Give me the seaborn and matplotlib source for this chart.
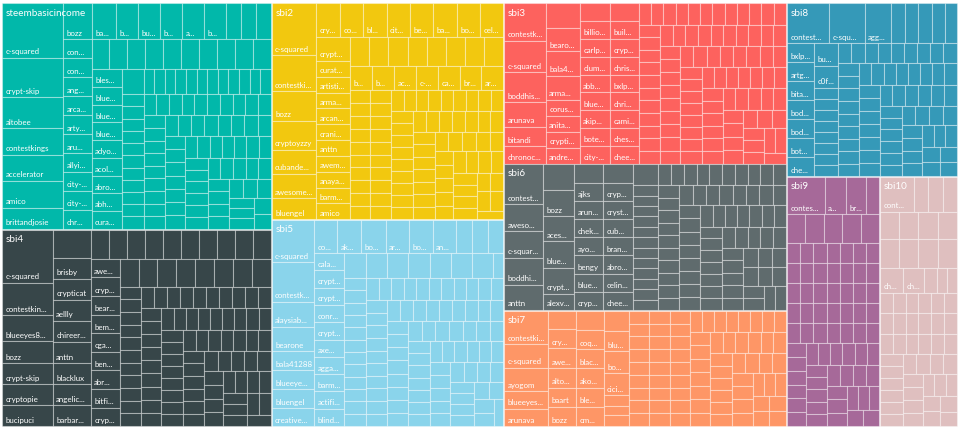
import matplotlib
matplotlib.use("Agg")
import matplotlib.pyplot as plt
import seaborn as sns

sns.set_theme(style="white")
plt.rcParams['font.family'] = ['Lato', 'DejaVu Sans']

group_names = ["steembasicincome", "sbi4", "sbi2", "sbi5", "sbi3", "sbi6", "sbi7", "sbi8", "sbi9", "sbi10"]
group_colors = ["#01B8AA", "#374649", "#F2C80F", "#8AD4EB", "#FD625E", "#5F6B6D", "#FE9666", "#3599B8", "#A66999", "#DFBFBF"]
# how groups are stacked together (indices into group_names)
group_strips = [[0, 1], [2, 3], [4, 5, 6], [7], [8, 9]]
group_dirs = "cccrr"

# Every inner list is one strip of the treemap; numbers are the estimated cell sizes.
# The *_dirs strings say whether a strip is a column (c) or a row (r).
steem_dirs = "ccrrccrrcrcrcrcrcrr"
steem_values = [
    [3300, 2380, 1870, 1590, 1570, 1630, 1280],
    [1008, 530, 530, 530, 530, 530, 530, 530, 530, 530, 530],
    [864, 780, 780, 780, 780, 780, 529, 529, 529],
    [534, 534, 534, 534, 534, 534, 534, 534, 534, 534],
    [531, 531, 531, 531, 531, 531, 531, 531, 531],
    [542, 265, 265, 265, 265, 265, 265, 265, 265, 265, 265, 265],
    [265, 265, 265, 265, 265, 265, 265, 265, 265, 265, 265, 265],
    [266, 266, 266, 266, 266, 266, 266, 266, 266, 266],
    [265, 265, 265, 265, 265, 265, 265, 265, 265],
    [268, 268, 268, 268, 268, 268, 268, 268],
    [269, 269, 269, 269, 269, 269, 269],
    [268, 268, 268, 268, 268, 268, 268],
    [265, 265, 265, 265, 265, 265],
    [263, 263, 263, 263, 263],
    [262, 262, 262, 262],
    [264, 264, 264],
    [258, 258, 258],
    [267],
    [240],
]
steem_labels = [
    ["c-squared", "crypt-skip", "altobee", "contestkings", "accelerator", "amico", "brittandjosie"],
    ["bozz", "con...", "con...", "ang...", "arca...", "arty...", "aru...", "allyi...", "city-...", "city-...", "chr..."],
    ["ba...", "b...", "bu...", "b...", "a...", "b..."],
    [],
    ["bles...", "blue...", "blue...", "blue...", "adyo...", "acol...", "abro...", "abh...", "cura..."],
]

sbi4_dirs = "ccrcrcrcrcrcrcrcrr"
sbi4_values = [
    [2667, 1617, 1300, 1083, 1050, 1050, 1050],
    [1068, 792, 792, 792, 792, 792, 792, 792, 792],
    [525, 525, 525, 525, 525, 525, 525, 525, 525, 525],
    [536, 536, 536, 536, 536, 536, 536, 536, 536],
    [523, 523, 523, 523, 523, 523, 523, 523],
    [265, 265, 265, 265, 265, 265, 265, 265, 265, 265, 265],
    [270, 270, 270, 270, 270, 270, 270, 270, 270, 270],
    [270, 270, 270, 270, 270, 270, 270, 270, 270],
    [266, 266, 266, 266, 266, 266, 266, 266, 266],
    [260, 260, 260, 260, 260, 260, 260, 260],
    [263, 263, 263, 263, 263, 263, 263],
    [262, 262, 262, 262, 262, 262],
    [266, 266, 266, 266, 266],
    [260, 260, 260, 260],
    [258, 258, 258, 258],
    [260, 260, 260],
    [264, 264],
    [256],
]
sbi4_labels = [
    ["c-squared", "contestkin...", "blueeyes8...", "bozz", "crypt-skip", "cryptopie", "bucipuci"],
    ["", "brisby", "crypticat", "aellly", "chireer...", "anttn", "blacklux", "angelic...", "barbar..."],
    [],
    ["awe...", "cryp...", "bear...", "bem...", "cga...", "ben...", "abr...", "bitfi...", "cryp..."],
]

sbi2_dirs = "crcrrccrcrcrcrcrrr"
sbi2_values = [
    [2311, 1596, 1310, 1296, 1086, 1073, 939],
    [776, 776, 776, 776, 776, 776, 776, 776],
    [809, 530, 530, 530, 530, 530, 530, 530, 530, 530, 530],
    [548, 548, 548, 548, 548, 548, 548, 548],
    [526, 526, 526, 526, 526, 526, 526],
    [258, 258, 258, 258, 258, 258, 258, 258, 258, 258],
    [267, 267, 267, 267, 267, 267, 267, 267, 267, 267],
    [266, 266, 266, 266, 266, 266, 266, 266, 266],
    [264, 264, 264, 264, 264, 264, 264, 264, 264],
    [260, 260, 260, 260, 260, 260, 260],
    [266, 266, 266, 266, 266, 266, 266],
    [268, 268, 268, 268, 268],
    [252, 252, 252, 252, 252],
    [269, 269, 269, 269],
    [265, 265, 265, 265],
    [245, 245],
    [258, 258],
    [222],
]
sbi2_labels = [
    ["c-squared", "contestki...", "bozz", "cryptoyzzy", "cubande...", "awesome...", "bluengel"],
    ["cry...", "co...", "bl...", "cit...", "be...", "ba...", "bo...", "cel..."],
    ["crypt...", "curat...", "artisti...", "arma...", "arcan...", "crani...", "anttn", "awem...", "anaya...", "barm...", "amico"],
    [],
    ["b...", "b...", "ac...", "c-...", "ca...", "br...", "ar..."],
]

sbi5_dirs = "crcrcrcrcrcrcrcrcc"
sbi5_values = [
    [1790, 1650, 1058, 1028, 804, 804, 804, 749],
    [770, 792, 792, 770, 782, 770, 528, 505, 518],
    [517, 517, 517, 517, 517, 517, 517, 517, 517, 517],
    [550, 525, 525, 525, 525, 540, 500, 267],
    [274, 274, 274, 274, 274, 274, 274, 274, 274, 274, 274, 274],
    [273, 273, 273, 273, 273, 273, 273, 273, 273, 273, 273],
    [263, 263, 263, 263, 263, 263, 263, 263, 263, 263],
    [266, 266, 266, 266, 266, 266, 266, 266, 266],
    [271, 271, 271, 271, 271, 271, 271, 271],
    [271, 271, 271, 271, 271, 271, 271],
    [262, 262, 262, 262, 262, 262, 262],
    [256, 256, 256, 256, 256, 256],
    [258, 258, 258, 258, 258],
    [261, 261, 261, 261],
    [264, 264, 264, 264],
    [251, 251],
    [266, 266],
    [240],
]
sbi5_labels = [
    ["c-squared", "contestk...", "alaysiab...", "bearone", "bala41288", "blueeye...", "bluengel", "creative..."],
    ["co...", "ak...", "bo...", "ar...", "bo...", "an..."],
    ["cala...", "crypt...", "crypt...", "conr...", "crypt...", "axe...", "agga...", "barm...", "actifi...", "blind..."],
]

sbi3_dirs = "ccccrcrcrcrcrcrcrr"
sbi3_values = [
    [1555, 1293, 1251, 1013, 792, 721],
    [816, 806, 816, 816, 544, 534, 544, 534],
    [530, 530, 530, 530, 530, 530, 530, 530, 530],
    [517, 517, 517, 517, 517, 517, 517, 517, 517],
    [258, 258, 258, 258, 258, 258, 258, 258, 258, 258, 258, 258],
    [267, 267, 267, 267, 267, 267, 267, 267, 267, 267, 267],
    [268, 268, 268, 268, 268, 268, 268, 268, 268, 268],
    [260, 260, 260, 260, 260, 260, 260, 260, 260],
    [269, 269, 269, 269, 269, 269, 269, 269],
    [260, 260, 260, 260, 260, 260, 260, 260],
    [260, 260, 260, 260, 260, 260, 260],
    [261, 261, 261, 261, 261, 261],
    [270, 270, 270, 270, 270],
    [266, 266, 266, 266],
    [264, 264, 264],
    [254, 254, 254],
    [264, 264],
    [232],
]
sbi3_labels = [
    ["contestk...", "c-squared", "boddhis...", "arunava", "bitandi", "chronoc..."],
    ["", "bearo...", "bala4...", "arma...", "corus...", "anita...", "crypti...", "andre..."],
    ["", "billio...", "carlp...", "clum...", "abb...", "blue...", "akip...", "bote...", "city-..."],
    ["", "buil...", "cryp...", "chris...", "bxlp...", "chri...", "cami...", "ches...", "chee..."],
]

sbi6_dirs = "cccccrcrcrcrcrrcr"
sbi6_values = [
    [1548, 1053, 1026, 1041, 975],
    [775, 815, 784, 806, 797, 505],
    [522, 522, 522, 522, 522, 522, 522, 522],
    [540, 540, 540, 540, 540, 540, 540, 540],
    [532, 265, 265, 265, 265, 265, 265, 265, 265, 265, 265, 265, 265],
    [265, 265, 265, 265, 265, 265, 265, 265, 265, 265],
    [260, 260, 260, 260, 260, 260, 260, 260, 260, 260],
    [267, 267, 267, 267, 267, 267, 267, 267],
    [273, 273, 273, 273, 273, 273, 273, 273],
    [257, 257, 257, 257, 257, 257, 257],
    [258, 258, 258, 258, 258, 258, 258],
    [273, 273, 273, 273, 273],
    [262, 262, 262, 262, 262],
    [266, 266, 266],
    [266, 266, 266],
    [252, 252],
    [260, 260],
]
sbi6_labels = [
    ["contest...", "aweso...", "c-squar...", "boddhi...", "anttn"],
    ["", "bozz", "aces...", "blue...", "crypt...", "alexv..."],
    ["", "ajks", "arun...", "chek...", "ayo...", "bengy", "blue...", "cryp..."],
    ["", "cryp...", "cryst...", "cub...", "bran...", "abro...", "celin...", "chee..."],
]

sbi7_dirs = "cccccccrcrcrcrcrr"
sbi7_values = [
    [1465, 1025, 1025, 760, 760],
    [518, 538, 566, 546, 538, 538],
    [522, 522, 522, 522, 522, 522],
    [498, 514, 564, 549, 270, 235, 270],
    [261, 261, 261, 261, 261, 261, 261, 261, 261],
    [261, 261, 261, 261, 261, 261, 261, 261, 261],
    [261, 261, 261, 261, 261, 261, 261, 261, 261],
    [248, 248, 248, 248, 248, 248, 248, 248],
    [268, 268, 268, 268, 268, 268, 268],
    [275, 275, 275, 275, 275, 275],
    [264, 264, 264, 264, 264, 264],
    [257, 257, 257, 257],
    [276, 276, 276, 276],
    [259, 259, 259],
    [250, 250],
    [250],
    [250],
]
sbi7_labels = [
    ["contestki...", "c-squared", "ayogom", "blueeyes...", "arunava"],
    ["", "cry...", "awe...", "alto...", "baart", "bozz"],
    ["", "coq...", "blac...", "ako...", "ble...", "cm..."],
    ["", "blu...", "bo...", "cici..."],
]

sbi8_dirs = "rccrcrcrcrcrcrr"
sbi8_values = [
    [1700, 1400, 1065, 534, 534, 534, 519, 480],
    [519, 519, 519, 519, 519, 519, 519],
    [528, 535, 264, 264, 264, 264, 264, 264, 264, 264],
    [260, 260, 260, 260, 260, 260, 260, 260, 260],
    [261, 261, 261, 261, 261, 261, 261, 261, 261],
    [262, 262, 262, 262, 262, 262, 262, 262],
    [266, 266, 266, 266, 266, 266, 266],
    [267, 267, 267, 267, 267, 267],
    [256, 256, 256, 256, 256, 256],
    [260, 260, 260, 260],
    [267, 267, 267, 267],
    [249, 249, 249],
    [256, 256],
    [256],
    [236],
]
sbi8_labels = [
    ["contest...", "c-squ...", "agg..."],
    ["bxlp...", "artg...", "bita...", "bod...", "bod...", "bot...", "che..."],
    ["bu...", "c0f..."],
]

sbi9_dirs = "rrrrrrrcrcrcrcc"
sbi9_values = [
    [1400, 781, 767, 493],
    [536, 536, 536, 536, 536],
    [264, 264, 264, 264, 264, 264, 264],
    [264, 264, 264, 264, 264, 264, 264],
    [264, 264, 264, 264, 264, 264, 264],
    [264, 264, 264, 264, 264, 264, 264],
    [264, 264, 264, 264, 264, 264, 264],
    [258, 258, 258, 258, 258, 258],
    [267, 267, 267, 267, 267, 267],
    [266, 266, 266, 266, 266],
    [269, 269, 269, 269],
    [271, 271, 271],
    [259, 259, 259],
    [261],
    [261],
]
sbi9_labels = [["contes...", "a...", "br..."]]

sbi10_dirs = "rrrrrrrcrcrcrr"
sbi10_values = [
    [1170, 500, 500, 490],
    [520, 520, 520, 520],
    [546, 546, 546, 546],
    [568, 518, 313, 247, 240],
    [260, 260, 260, 260, 260, 260],
    [260, 260, 260, 260, 260, 260],
    [260, 260, 260, 260, 260, 260],
    [268, 268, 268, 268, 268, 268],
    [270, 270, 270, 270],
    [271, 271, 271, 271],
    [248, 248, 248],
    [250, 250],
    [256],
    [230],
]
sbi10_labels = [["cont..."], [], [], ["ch...", "ch..."]]

group_values = [steem_values, sbi4_values, sbi2_values, sbi5_values, sbi3_values,
                sbi6_values, sbi7_values, sbi8_values, sbi9_values, sbi10_values]
group_labels = [steem_labels, sbi4_labels, sbi2_labels, sbi5_labels, sbi3_labels,
                sbi6_labels, sbi7_labels, sbi8_labels, sbi9_labels, sbi10_labels]
strip_dirs = [steem_dirs, sbi4_dirs, sbi2_dirs, sbi5_dirs, sbi3_dirs,
              sbi6_dirs, sbi7_dirs, sbi8_dirs, sbi9_dirs, sbi10_dirs]


def tile(strips, dirs, x0, y0, x1, y1):
    """Slice a rectangle into strips, each a column or a row of cells."""
    remaining = sum(sum(s) for s in strips)
    out = []
    for strip, d in zip(strips, dirs):
        total = sum(strip)
        dx, dy = x1 - x0, y1 - y0
        cells = []
        if d == "r":
            h = dy * total / remaining
            x = x0
            for v in strip:
                w = dx * v / total
                cells.append((x, y0, w, h))
                x += w
            y0 += h
        else:
            w = dx * total / remaining
            y = y0
            for v in strip:
                h = dy * v / total
                cells.append((x0, y, w, h))
                y += h
            x0 += w
        remaining -= total
        out.append(cells)
    return out


fig, ax = plt.subplots(figsize=(9.6, 4.29), dpi=100)
ax.set_position([0, 0, 1, 1])
ax.set_xlim(0, 960)
ax.set_ylim(429, 0)
ax.axis("off")

palette = sns.color_palette(group_colors)
totals = [[sum(sum(s) for s in group_values[g]) for g in strip] for strip in group_strips]
group_boxes = tile(totals, group_dirs, 2, 3, 957, 426.5)

for ids, boxes in zip(group_strips, group_boxes):
    for g, (gx, gy, gw, gh) in zip(ids, boxes):
        strips = tile(group_values[g], strip_dirs[g], gx + 0.4, gy + 0.4, gx + gw - 0.4, gy + gh - 0.4)
        cells = [c for s in strips for c in s]
        ax.bar([c[0] for c in cells], [c[3] for c in cells], width=[c[2] for c in cells],
               bottom=[c[1] for c in cells], align="edge", color=palette[g],
               edgecolor=(1, 1, 1, 0.35), linewidth=0.8)
        ax.text(gx + 4, gy + 10, group_names[g], color="white", fontsize=7.1, va="center", ha="left")
        for strip, labels in zip(strips, group_labels[g]):
            for (x, y, w, h), label in zip(strip, labels):
                if label:
                    ax.text(x + 3.5, y + h - 6, label, color="white", fontsize=5.7, va="center", ha="left")

fig.savefig("out.png", dpi=100, facecolor="white")
